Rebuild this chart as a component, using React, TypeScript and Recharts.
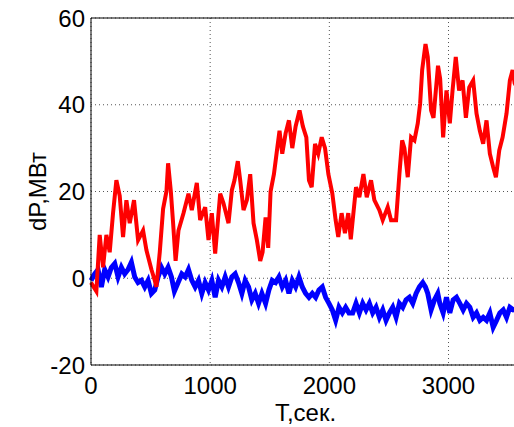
import React from 'react';
import { LineChart, Line, XAxis, YAxis, CartesianGrid, ReferenceLine } from 'recharts';

// red series: time (s) and dP (MW)
const redT = [0, 45, 73, 101, 129, 157, 185, 213, 241, 269, 297, 325, 361, 395, 437, 465, 507, 535, 549, 577,
  605, 633, 647, 670, 689, 710, 734, 776, 818, 846, 888, 916, 958, 986, 1014, 1042, 1084, 1112, 1154, 1182,
  1204, 1232, 1252, 1280, 1308, 1336, 1364, 1392, 1420, 1440, 1465, 1487, 1507, 1535, 1563, 1582, 1605, 1633, 1661, 1689,
  1717, 1750, 1778, 1807, 1829, 1852, 1880, 1907, 1936, 1964, 1992, 2025, 2053, 2075, 2103, 2131, 2159, 2180, 2224, 2252,
  2286, 2314, 2350, 2378, 2420, 2448, 2490, 2518, 2560, 2588, 2611, 2630, 2658, 2686, 2714, 2742, 2762, 2779, 2807, 2826,
  2854, 2874, 2896, 2912, 2930, 2955, 2983, 3011, 3034, 3061, 3089, 3118, 3146, 3174, 3207, 3235, 3263, 3291, 3319, 3347,
  3375, 3398, 3426, 3454, 3487, 3515, 3538, 3555, 3590];
const redP = [-1, -3, 10, 2.5, 10, 6, 15, 22.6, 19, 9.5, 18, 12.7, 18, 8.8, 11, 6.5, 2, -0.5, -2, 6,
  16, 20, 26.5, 20, 12.7, 4, 11, 15, 19.5, 15.7, 22, 13.4, 16.4, 8.8, 15, 5.7, 19.5, 17.3, 12.7, 20.3,
  22.6, 27, 22.6, 15.7, 18, 24, 12.7, 8.8, 4, 6, 14, 7, 20, 24, 30, 34, 28.7, 33.4, 36.4, 30,
  35, 38.7, 35, 32.5, 22.6, 21, 31, 28.7, 32.5, 30, 24, 19.6, 13.4, 9.5, 15, 10.4, 15, 9, 21, 18.7,
  24, 18.7, 22.6, 18, 15.7, 13.4, 16.4, 13.4, 13.4, 24, 31.8, 30, 23.3, 32.5, 31.8, 35.7, 40.3, 48, 54, 51,
  38.7, 37, 44, 49, 46, 32.5, 43.3, 35.7, 43.3, 51, 43.3, 45.6, 37, 44, 45.6, 38, 34, 31, 36.4, 28.7,
  25.6, 23.3, 29.5, 32.5, 38, 45.6, 48, 45, 43];

// blue series
const blueT = [0, 31, 59, 87, 115, 143, 171, 199, 227, 255, 283, 311, 339, 367, 395, 423, 451, 479, 507, 535,
  563, 591, 619, 647, 675, 700, 731, 762, 790, 818, 846, 874, 902, 930, 958, 986, 1014, 1042, 1070, 1098,
  1126, 1154, 1182, 1210, 1238, 1266, 1294, 1322, 1350, 1378, 1406, 1434, 1465, 1493, 1521, 1549, 1577, 1605, 1633, 1661,
  1689, 1717, 1745, 1773, 1801, 1829, 1857, 1885, 1913, 1941, 1969, 1997, 2025, 2053, 2081, 2109, 2137, 2165, 2196, 2224,
  2252, 2280, 2308, 2336, 2364, 2392, 2420, 2448, 2476, 2504, 2532, 2560, 2588, 2616, 2644, 2672, 2700, 2728, 2756, 2784,
  2806, 2826, 2854, 2882, 2910, 2927, 2955, 2983, 3011, 3039, 3067, 3095, 3123, 3151, 3179, 3207, 3235, 3263, 3291, 3319,
  3347, 3375, 3403, 3431, 3459, 3487, 3515, 3543, 3590];
const blueP = [-0.5, 1, 2, -2, 2, 0.3, 2.5, 3.4, 0.3, 2.5, 1, 2, 3.7, 0.3, -1, -0.5, -2, -0.5, -3.5, -2.7,
  0.3, 2.5, 1, 2.5, 0.3, -3, -1, 1, 0.3, 2, -0.5, -2, -0.5, -3.5, -1, -2.7, -0.5, -4.4, -0.5, -2,
  0.3, -2, 0.3, 1, -1, -3.5, -0.5, -2, -5, -3.5, -5.8, -3.5, -5.8, -2.7, -0.5, -1, 0.3, -2, -0.5, -3.5,
  -0.5, -2, 0.3, -2, -3.5, -4.4, -3.5, -4.4, -2.7, -2, -4.4, -5.8, -7.3, -9.7, -6.7, -8, -6.7, -8, -8, -5.8,
  -8, -5.8, -7.3, -5.8, -8, -6.7, -9, -7.3, -9.7, -8, -6.7, -9, -5.8, -6.7, -5, -4.4, -5.8, -3.5, -2, -1,
  -2, -3.5, -7.3, -5, -3.5, -5.8, -8, -4.4, -8, -5, -4.4, -5.8, -7.3, -5.8, -6.7, -9, -8, -9.7, -9, -9.7,
  -8, -11.3, -9.7, -8, -7.3, -9, -6.7, -7.3, -7];

const xTicks = [0, 1000, 2000, 3000];
const yTicks = [-20, 0, 20, 40, 60];

const redData = redT.map((t, i) => ({ t, p: redP[i] }));
const blueData = blueT.map((t, i) => ({ t, p: blueP[i] }));

const font = { fontSize: 24, fill: '#000', fontFamily: 'Liberation Sans, Arial, sans-serif' };

export default function App() {
  return (
    <div style={{ position: 'absolute', left: 0, top: 0, width: 514, height: 427, overflow: 'hidden', background: '#fff' }}>
      <LineChart width={520} height={427} margin={{ top: 18, right: 0, left: 0, bottom: 0 }}>
        <CartesianGrid strokeDasharray="1 3" stroke="#555" />
        <XAxis
          dataKey="t"
          type="number"
          domain={[0, 3600]}
          ticks={xTicks}
          height={62}
          stroke="#000"
          tickLine={false}
          tickSize={0}
          tickMargin={12}
          tick={font}
          label={{ value: 'T,сек.', position: 'insideBottom', offset: 6, ...font }}
        />
        <YAxis
          type="number"
          domain={[-20, 60]}
          ticks={yTicks}
          width={91}
          stroke="#000"
          tickLine={false}
          tickSize={0}
          tickMargin={6}
          tick={font}
          label={{ value: 'dP,МВт', angle: -90, position: 'center', dx: -8, ...font }}
        />
        <ReferenceLine y={60} stroke="#000" />
        <Line data={blueData} dataKey="p" stroke="#0000ff" strokeWidth={5} strokeLinejoin="miter" dot={false} isAnimationActive={false} />
        <Line data={redData} dataKey="p" stroke="#ff0000" strokeWidth={4} strokeLinejoin="miter" dot={false} isAnimationActive={false} />
      </LineChart>
    </div>
  );
}
